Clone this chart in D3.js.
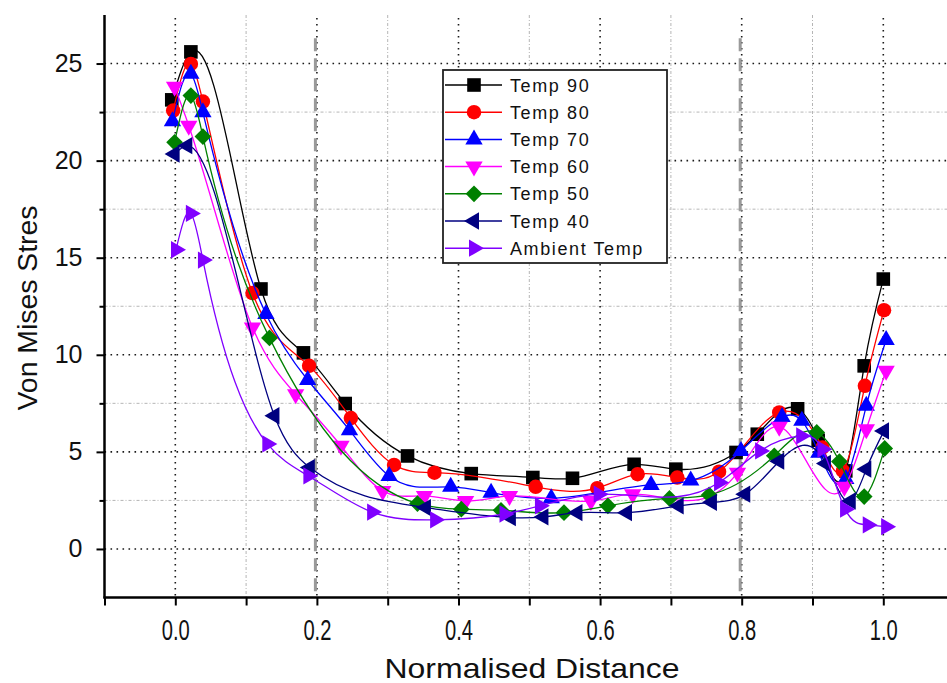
<!DOCTYPE html>
<html lang="en">
<head>
  <meta charset="utf-8">
  <title>Von Mises Stress vs Normalised Distance</title>
  <style>
    body { margin: 0; background: #fff; }
    svg { display: block; font-family: "Liberation Sans", Arial, sans-serif; }
    .axis path, .axis line { stroke: #000; stroke-width: 2; }
    .axis text { font-size: 25px; fill: #111; }
  </style>
  <script src="https://d3js.org/d3.v7.min.js"></script>
</head>
<body>
<script>

    // series: [normalised distance, von mises stress]
    let temp90 = [[-0.005,23.13],[0.022,25.6],[0.121,13.39],[0.181,10.1],[0.24,7.49],[0.328,4.79],[0.418,3.88],[0.505,3.68],[0.561,3.64],[0.648,4.36],[0.707,4.11],[0.792,4.97],[0.822,5.91],[0.879,7.22],[0.908,5.6],[0.947,4.02],[0.973,9.43],[1.0,13.9]]
    let temp80 = [[-0.003,22.58],[0.022,24.98],[0.039,23.04],[0.109,13.18],[0.189,9.43],[0.248,6.74],[0.309,4.33],[0.366,3.93],[0.509,3.2],[0.596,3.13],[0.653,3.85],[0.709,3.68],[0.768,3.98],[0.853,7.03],[0.914,5.22],[0.943,4.02],[0.974,8.4],[1.001,12.3]]
    let temp70 = [[-0.004,22.03],[0.022,24.47],[0.039,22.49],[0.128,12.1],[0.187,8.7],[0.246,6.12],[0.302,3.76],[0.389,3.2],[0.446,2.9],[0.531,2.61],[0.672,3.3],[0.728,3.52],[0.799,5.05],[0.857,6.8],[0.885,6.6],[0.909,4.95],[0.947,3.6],[0.976,7.37],[1.004,10.76]]
    let temp60 = [[-0.001,23.8],[0.019,21.8],[0.109,11.41],[0.17,7.97],[0.234,5.31],[0.293,2.99],[0.352,2.73],[0.41,2.47],[0.472,2.73],[0.587,2.47],[0.646,2.82],[0.794,3.93],[0.853,6.3],[0.945,3.2],[0.976,6.17],[1.004,9.18]]
    let temp50 = [[-0.001,20.94],[0.022,23.35],[0.039,21.24],[0.133,10.87],[0.342,2.34],[0.404,2.05],[0.46,1.99],[0.549,1.87],[0.611,2.22],[0.698,2.6],[0.754,2.78],[0.846,4.8],[0.906,6.0],[0.938,4.5],[0.973,2.7],[1.002,5.18]]
    let temp40 = [[-0.001,20.34],[0.017,20.77],[0.14,6.86],[0.19,4.19],[0.354,2.13],[0.474,1.61],[0.52,1.65],[0.568,1.87],[0.638,1.87],[0.711,2.22],[0.758,2.4],[0.805,2.82],[0.853,4.52],[0.919,4.4],[0.954,2.47],[0.976,4.11],[1.001,6.08]]
    let ambient = [[0.001,15.41],[0.022,17.28],[0.039,14.88],[0.13,5.41],[0.188,3.76],[0.278,1.9],[0.367,1.5],[0.465,1.8],[0.515,2.22],[0.598,2.82],[0.768,3.42],[0.826,5.05],[0.884,5.82],[0.914,5.14],[0.946,2.05],[0.978,1.24],[1.004,1.15]]

    let seriesNames = ["Temp 90", "Temp 80", "Temp 70", "Temp 60", "Temp 50", "Temp 40", "Ambient Temp"]
    let seriesData = [temp90, temp80, temp70, temp60, temp50, temp40, ambient]
    let seriesColors = ["#000000", "#ff0000", "#0000ff", "#ff00ff", "#008000", "#000080", "#8000ff"]

    let xMajorTicks = [0, 0.2, 0.4, 0.6, 0.8, 1.0]
    let xMinorTicks = [-0.1, 0.1, 0.3, 0.5, 0.7, 0.9]
    let yMajorTicks = [0, 5, 10, 15, 20, 25]
    let yMinorTicks = [2.5, 7.5, 12.5, 17.5, 22.5]
    let markerLines = [0.2, 0.8]

    let width = 947
    let height = 683
    let padLeft = 104.5
    let padTop = 15
    let axisY = 597.5

    // natural cubic spline with y as a function of x (like the smoothed lines)
    function SplineX(context) { this._context = context }
    SplineX.prototype = {
        areaStart() {}, areaEnd() {},
        lineStart() { this._x = []; this._y = [] },
        point(x, y) { this._x.push(+x); this._y.push(+y) },
        lineEnd() {
            let x = this._x, y = this._y, n = x.length, ctx = this._context
            if (!n) return
            ctx.moveTo(x[0], y[0])
            if (n < 3) { for (let i = 1; i < n; i++) ctx.lineTo(x[i], y[i]); return }
            let h = [], d = []
            for (let i = 0; i < n - 1; i++) { h[i] = x[i + 1] - x[i]; d[i] = (y[i + 1] - y[i]) / h[i] }
            let M = new Array(n).fill(0), c = [], r = []
            // Thomas algorithm on the interior points
            for (let i = 1; i < n - 1; i++) {
                let a = h[i - 1], b = 2 * (h[i - 1] + h[i]), cc = h[i], rr = 6 * (d[i] - d[i - 1])
                if (i === 1) { c[i] = cc / b; r[i] = rr / b }
                else { let den = b - a * c[i - 1]; c[i] = cc / den; r[i] = (rr - a * r[i - 1]) / den }
            }
            for (let i = n - 2; i >= 1; i--) M[i] = r[i] - (i < n - 2 ? c[i] * M[i + 1] : 0)
            for (let i = 0; i < n - 1; i++) {
                let s0 = d[i] - h[i] * (2 * M[i] + M[i + 1]) / 6
                let s1 = d[i] + h[i] * (M[i] + 2 * M[i + 1]) / 6
                let t = h[i] / 3
                ctx.bezierCurveTo(x[i] + t, y[i] + s0 * t, x[i + 1] - t, y[i + 1] - s1 * t, x[i + 1], y[i + 1])
            }
        }
    }
    let curveSplineX = (context) => new SplineX(context)

    let svg = d3.select("body").append("svg")
        .attr("width", width)
        .attr("height", height)

    let xScale = d3.scaleLinear().domain([-0.1, 1.1]).range([padLeft, padLeft + 1.2 * 708])
    let yScale = d3.scaleLinear().domain([-2.5, 27.5]).range([axisY, padTop])

    // grid
    let grid = svg.append("g")
    grid.selectAll(".hminor").data(yMinorTicks).enter().append("line")
        .attr("x1", padLeft).attr("x2", width)
        .attr("y1", d => yScale(d)).attr("y2", d => yScale(d))
        .attr("stroke", "#b5b5b5").attr("stroke-width", 1).attr("stroke-dasharray", "3,2,1,2")
    grid.selectAll(".vminor").data(xMinorTicks.filter(d => d > -0.1)).enter().append("line")
        .attr("x1", d => xScale(d)).attr("x2", d => xScale(d))
        .attr("y1", padTop).attr("y2", axisY)
        .attr("stroke", "#b5b5b5").attr("stroke-width", 1).attr("stroke-dasharray", "3,2,1,2")
    grid.selectAll(".hmajor").data(yMajorTicks).enter().append("line")
        .attr("x1", padLeft).attr("x2", width)
        .attr("y1", d => yScale(d)).attr("y2", d => yScale(d))
        .attr("stroke", "#1a1a1a").attr("stroke-width", 1.6).attr("stroke-dasharray", "1.6,4.4")
    grid.selectAll(".vmajor").data(xMajorTicks).enter().append("line")
        .attr("x1", d => xScale(d)).attr("x2", d => xScale(d))
        .attr("y1", padTop + 3).attr("y2", axisY)
        .attr("stroke", "#1a1a1a").attr("stroke-width", 1.6).attr("stroke-dasharray", "1.6,4.4")

    // thick dashed markers at 0.2 and 0.8
    svg.selectAll(".marker-line").data(markerLines).enter().append("line")
        .attr("x1", d => xScale(d) - 1.5).attr("x2", d => xScale(d) - 1.5)
        .attr("y1", yScale(26.3)).attr("y2", axisY)
        .attr("stroke", "#9a9a9a").attr("stroke-width", 3).attr("stroke-dasharray", "13,7")

    // axes
    let xAxis = d3.axisBottom(xScale).tickValues(xMajorTicks).tickSize(8).tickPadding(14)
        .tickFormat(d3.format(".1f"))
    let xAxisMinor = d3.axisBottom(xScale).tickValues(xMinorTicks).tickSize(8).tickFormat("")
    let yAxis = d3.axisLeft(yScale).tickValues(yMajorTicks).tickSize(8).tickPadding(14)
    let yAxisMinor = d3.axisLeft(yScale).tickValues(yMinorTicks).tickSize(5).tickFormat("")

    svg.append("g").attr("class", "axis").attr("transform", `translate(0,${axisY})`).call(xAxisMinor)
    let gx = svg.append("g").attr("class", "axis").attr("transform", `translate(0,${axisY})`).call(xAxis)
    gx.selectAll("text").attr("y", 32).attr("dy", "0.36em")
        .style("font-size", "29px")
        .attr("textLength", 28).attr("lengthAdjust", "spacingAndGlyphs")
    svg.append("g").attr("class", "axis").attr("transform", `translate(${padLeft},0)`).call(yAxisMinor)
    svg.append("g").attr("class", "axis").attr("transform", `translate(${padLeft},0)`).call(yAxis)
    svg.selectAll(".axis .domain").remove()
    svg.append("line").attr("x1", padLeft).attr("x2", padLeft).attr("y1", padTop).attr("y2", axisY + 1)
        .attr("stroke", "#000").attr("stroke-width", 2.5)
    svg.append("line").attr("x1", padLeft - 1).attr("x2", width).attr("y1", axisY).attr("y2", axisY)
        .attr("stroke", "#000").attr("stroke-width", 2.5)

    svg.append("text")
        .attr("x", 532).attr("y", 678)
        .attr("text-anchor", "middle")
        .attr("font-size", 28)
        .attr("textLength", 295).attr("lengthAdjust", "spacingAndGlyphs")
        .attr("fill", "#111")
        .text("Normalised Distance")

    svg.append("text")
        .attr("transform", "translate(37,308) rotate(-90)")
        .attr("text-anchor", "middle")
        .attr("font-size", 27)
        .attr("textLength", 205).attr("lengthAdjust", "spacingAndGlyphs")
        .attr("fill", "#111")
        .text("Von Mises Stres")

    // symbols
    let symbolFor = [
        { type: d3.symbolSquare, size: 185, rot: 0 },
        { type: d3.symbolCircle, size: 165, rot: 0 },
        { type: d3.symbolTriangle, size: 130, rot: 0 },
        { type: d3.symbolTriangle, size: 130, rot: 180 },
        { type: d3.symbolSquare, size: 140, rot: 45 },
        { type: d3.symbolTriangle, size: 130, rot: -90 },
        { type: d3.symbolTriangle, size: 130, rot: 90 }
    ]

    let line = d3.line()
        .x(d => xScale(d[0]))
        .y(d => yScale(d[1]))
        .curve(curveSplineX)

    let plot = svg.append("g")
    seriesData.forEach((values, i) => {
        let g = plot.append("g")
        g.append("path")
            .attr("d", line(values))
            .attr("fill", "none")
            .attr("stroke", seriesColors[i])
            .attr("stroke-width", 1.3)
        let sym = symbolFor[i]
        g.selectAll("path.pt").data(values).enter().append("path")
            .attr("class", "pt")
            .attr("d", d3.symbol().type(sym.type).size(sym.size))
            .attr("transform", d => `translate(${xScale(d[0])},${yScale(d[1])}) rotate(${sym.rot})`)
            .attr("fill", seriesColors[i])
    })

    // legend
    let legend = svg.append("g")
    legend.append("rect")
        .attr("x", 443).attr("y", 70).attr("width", 224).attr("height", 193)
        .attr("fill", "#fff").attr("stroke", "#222").attr("stroke-width", 1.8)
    seriesNames.forEach((name, i) => {
        let cy = 85 + i * 27.2
        let sym = symbolFor[i]
        legend.append("line")
            .attr("x1", 445).attr("x2", 502).attr("y1", cy).attr("y2", cy)
            .attr("stroke", seriesColors[i]).attr("stroke-width", 1.5)
        legend.append("path")
            .attr("d", d3.symbol().type(sym.type).size(sym.size))
            .attr("transform", `translate(474,${cy}) rotate(${sym.rot})`)
            .attr("fill", seriesColors[i])
        legend.append("text")
            .attr("x", 510).attr("y", cy + 6.5)
            .attr("font-size", 18)
            .attr("letter-spacing", "1.6px")
            .attr("fill", "#111")
            .text(name)
    })

</script>
</body>
</html>
